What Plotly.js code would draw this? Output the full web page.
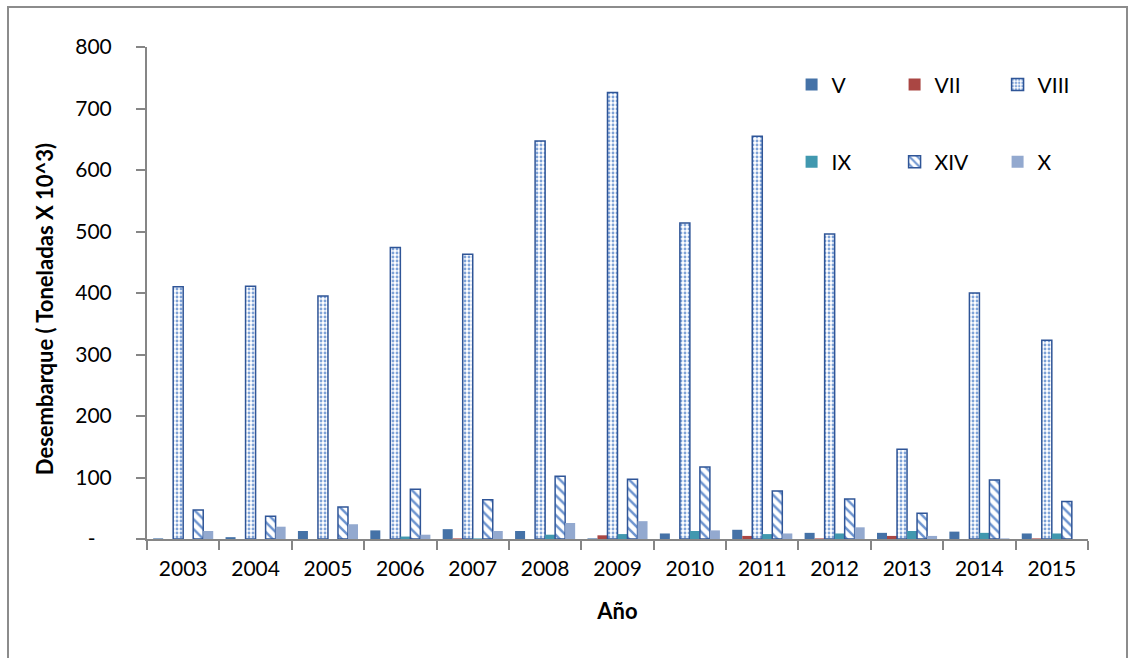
<!DOCTYPE html>
<html>
<head>
<meta charset="utf-8">
<script src="https://cdn.plot.ly/plotly-3.0.1.min.js"></script>
<style>
  html, body { margin: 0; padding: 0; background: #fff; }
  #wrap { position: relative; width: 1135px; height: 658px; }
  #chart { width: 1135px; height: 658px; }
  #frame { position: absolute; left: 7px; top: 6px; width: 1121px; height: 660px;
           border: 2px solid #8c8c8c; pointer-events: none; box-sizing: border-box; }
</style>
</head>
<body>
<div id="wrap">
  <div id="chart"></div>
  <div id="frame"></div>
</div>
<script>
const years = ["2003","2004","2005","2006","2007","2008","2009","2010","2011","2012","2013","2014","2015"];
const serieV    = [1, 3, 13, 14, 16, 13, 1, 9, 15, 10, 10, 12, 9];
const serieVII  = [0, 0, 0, 0, 1, 0, 6, 0, 5, 1, 5, 0, 1];
const serieVIII = [410, 411, 395, 474, 463, 647, 726, 514, 655, 496, 146, 400, 323];
const serieIX   = [0, 0, 0, 4, 1, 7, 8, 13, 8, 9, 13, 10, 9];
const serieXIV  = [47, 37, 52, 81, 64, 102, 97, 117, 78, 65, 42, 96, 61];
const serieX    = [13, 20, 24, 7, 13, 26, 29, 14, 9, 19, 5, 1, 0];
const yTickVals = [0, 100, 200, 300, 400, 500, 600, 700, 800];
const yTickText = ["-\u00a0\u00a0\u00a0", "100", "200", "300", "400", "500", "600", "700", "800"];

const FONT = "Lato, 'Open Sans', sans-serif";
const outline = "#2F5597";

const traces = [
  {name: "V", y: serieV, marker: {color: "#4572A7"}, legend: "legend"},
  {name: "VII", y: serieVII, marker: {color: "#AA4643"}, legend: "legend"},
  {name: "VIII", y: serieVIII, marker: {color: "#ffffff",
      line: {color: outline, width: 1.5},
      pattern: {shape: ".", fgcolor: "#7fa3d8", bgcolor: "#ffffff", size: 4, solidity: 0.4}}, legend: "legend"},
  {name: "IX", y: serieIX, marker: {color: "#4198AF"}, legend: "legend2"},
  {name: "XIV", y: serieXIV, marker: {color: "#ffffff",
      line: {color: outline, width: 1.5},
      pattern: {shape: "\\", fgcolor: "#6b93cf", bgcolor: "#ffffff", size: 7, solidity: 0.35}}, legend: "legend2"},
  {name: "X", y: serieX, marker: {color: "#93A9CF"}, legend: "legend2"}
].map(t => Object.assign({type: "bar", x: years, hoverinfo: "x+y+name"}, t));

const legendCommon = {
  orientation: "h", xanchor: "left", yanchor: "middle",
  entrywidth: 58, entrywidthmode: "pixels",
  font: {family: FONT, size: 21, color: "#000"},
  bgcolor: "rgba(0,0,0,0)", traceorder: "normal"
};

const layout = {
  width: 1135, height: 658,
  margin: {l: 147, r: 47, t: 47, b: 119},
  paper_bgcolor: "#fff", plot_bgcolor: "#fff",
  barmode: "group", bargap: 0.17, bargroupgap: 0,
  font: {family: FONT, size: 21, color: "#000"},
  xaxis: {
    type: "category", showline: true, linecolor: "#868686", linewidth: 2,
    ticks: "outside", tickson: "boundaries", ticklen: 9, tickwidth: 2, tickcolor: "#868686",
    tickfont: {family: FONT, size: 21}, ticklabelstandoff: 10,
    showgrid: false, zeroline: false,
    title: {text: "<b>Año</b>", font: {family: FONT, size: 22}, standoff: 24}
  },
  yaxis: {
    range: [0, 800], showline: true, linecolor: "#868686", linewidth: 2,
    ticks: "outside", ticklen: 9, tickwidth: 2, tickcolor: "#868686",
    tickvals: yTickVals, ticktext: yTickText,
    tickfont: {family: FONT, size: 21}, ticklabelstandoff: 20,
    showgrid: false, zeroline: false,
    title: {text: "<b>Desembarque ( Toneladas X 10^3)\u00a0\u00a0\u00a0\u00a0\u00a0\u00a0</b>", font: {family: FONT, size: 22}, standoff: 16}
  },
  legend: Object.assign({x: 0.685, y: 0.923}, legendCommon),
  legend2: Object.assign({x: 0.685, y: 0.766}, legendCommon),
  showlegend: true
};

Plotly.newPlot("chart", traces, layout, {displayModeBar: false, staticPlot: true});
</script>
</body>
</html>
